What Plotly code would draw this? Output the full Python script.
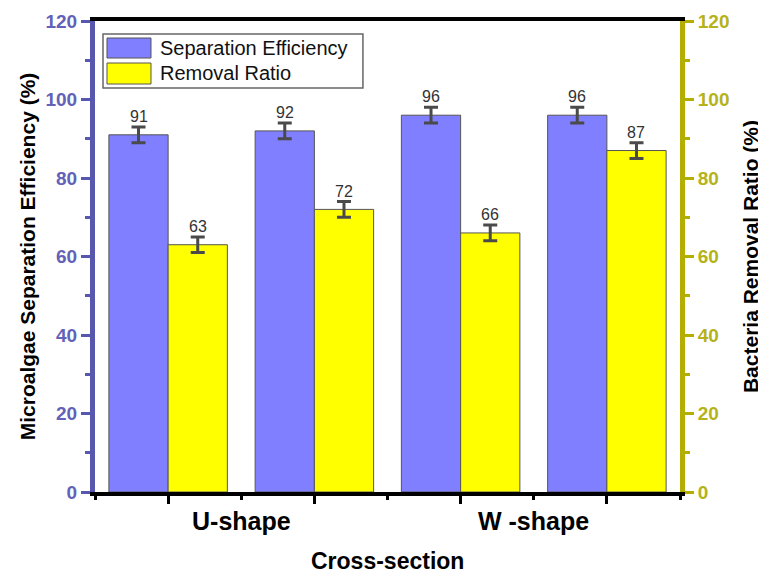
import plotly.graph_objects as go

# ---- data ----
group_labels = ["U-shape", "W -shape"]
positions = [1, 2, 3, 4]
separation_eff = [91, 92, 96, 96]
separation_err = [2, 2, 2, 2]
removal_ratio = [63, 72, 66, 87]
removal_err = [2, 2, 2, 2]
y_ticks = [0, 20, 40, 60, 80, 100, 120]

BLUE = "#7F7FFF"
YELLOW = "#FFFF00"
LEFT_AX = "#5757B0"
LEFT_LBL = "#6262B8"
RIGHT_AX = "#B3AE00"
RIGHT_LBL = "#B5B21A"
ERR = "#4A4A4A"
FONT = "Liberation Sans, Arial, sans-serif"

bargap = 0.19
bar_w = (1 - bargap) / 2

fig = go.Figure()
fig.add_trace(go.Bar(
    x=positions, y=separation_eff, name="Separation Efficiency",
    marker=dict(color=BLUE, line=dict(color="#555555", width=1)),
    error_y=dict(type="data", array=separation_err, color=ERR, thickness=3, width=7),
    offsetgroup="1", yaxis="y", showlegend=False,
))
fig.add_trace(go.Bar(
    x=positions, y=removal_ratio, name="Removal Ratio",
    marker=dict(color=YELLOW, line=dict(color="#555555", width=1)),
    error_y=dict(type="data", array=removal_err, color=ERR, thickness=3, width=7),
    offsetgroup="2", yaxis="y2", showlegend=False,
))

annotations = []
for p, v, e in zip(positions, separation_eff, separation_err):
    annotations.append(dict(x=p - bar_w / 2, y=v + e, xref="x", yref="y", text=str(v),
                            showarrow=False, yanchor="bottom", yshift=0,
                            font=dict(family=FONT, size=16, color="#333333")))
for p, v, e in zip(positions, removal_ratio, removal_err):
    annotations.append(dict(x=p + bar_w / 2, y=v + e, xref="x", yref="y2", text=str(v),
                            showarrow=False, yanchor="bottom", yshift=0,
                            font=dict(family=FONT, size=16, color="#333333")))
# group labels
for i, lab in enumerate(group_labels):
    gx = (positions[2 * i] + positions[2 * i + 1]) / 2
    annotations.append(dict(x=gx, y=0, xref="x", yref="paper", text=lab, showarrow=False,
                            yanchor="middle", yshift=-29,
                            font=dict(family=FONT, size=25, color="#000000", weight="bold")))
annotations.append(dict(x=0.5, y=0, xref="paper", yref="paper", text="Cross-section",
                        showarrow=False, yanchor="middle", yshift=-69,
                        font=dict(family=FONT, size=23, color="#000000", weight="bold")))

# custom legend
shapes = [
    dict(type="rect", xref="paper", yref="paper", x0=0.0137, x1=0.458, y0=0.8577, y1=0.9724,
         line=dict(color="#666666", width=1.5), fillcolor="white"),
    dict(type="rect", xref="paper", yref="paper", x0=0.0205, x1=0.0957, y0=0.9214, y1=0.9639,
         line=dict(color="#555555", width=1), fillcolor=BLUE),
    dict(type="rect", xref="paper", yref="paper", x0=0.0205, x1=0.0957, y0=0.8662, y1=0.9108,
         line=dict(color="#555555", width=1), fillcolor=YELLOW),
]
annotations.append(dict(x=0.1077, y=0.9427, xref="paper", yref="paper", text="Separation Efficiency",
                        showarrow=False, xanchor="left", yanchor="middle",
                        font=dict(family=FONT, size=20, color="#111111")))
annotations.append(dict(x=0.1077, y=0.8896, xref="paper", yref="paper", text="Removal Ratio",
                        showarrow=False, xanchor="left", yanchor="middle",
                        font=dict(family=FONT, size=20, color="#111111")))

fig.update_layout(
    width=758, height=566,
    margin=dict(l=87, r=86, t=13, b=82),
    paper_bgcolor="white", plot_bgcolor="white",
    barmode="group", bargap=bargap, bargroupgap=0,
    font=dict(family=FONT),
    xaxis=dict(range=[0.5, 4.5], tickvals=positions, ticktext=[""] * len(positions),
               automargin=False,
               ticks="outside", ticklen=8, tickwidth=3, tickcolor="black",
               showline=True, linecolor="black", linewidth=4, mirror=True,
               showgrid=False, zeroline=False,
               minor=dict(tickvals=[0.5, 1.5, 2.5, 3.5, 4.5], ticks="outside", ticklen=4,
                          tickwidth=3, tickcolor="black")),
    xaxis2=dict(range=[0.5, 4.5], overlaying="x", side="top", anchor="y", automargin=False,
                tickvals=positions, showticklabels=False, ticks="inside", ticklen=5,
                tickwidth=3, tickcolor="black", showline=False, showgrid=False, zeroline=False,
                minor=dict(tickvals=[1.5, 2.5, 3.5], ticks="inside", ticklen=3,
                           tickwidth=3, tickcolor="black")),
    yaxis=dict(range=[0, 120], tickvals=y_ticks, ticks="outside", ticklen=9, tickwidth=3,
               automargin=False,
               tickcolor=LEFT_AX, showline=True, linecolor=LEFT_AX, linewidth=5,
               showgrid=False, zeroline=False,
               tickfont=dict(family=FONT, size=19, color=LEFT_LBL, weight="bold"),
               minor=dict(dtick=10, ticks="outside", ticklen=5, tickwidth=3, tickcolor=LEFT_AX),
               title=dict(text="Microalgae Separation Efficiency (%)", standoff=6,
                          font=dict(family=FONT, size=21, color="#000000", weight="bold"))),
    yaxis2=dict(range=[0, 120], tickvals=y_ticks, overlaying="y", side="right", anchor="x",
                automargin=False,
                ticks="outside", ticklen=9, tickwidth=3, tickcolor=RIGHT_AX,
                showline=True, linecolor=RIGHT_AX, linewidth=5,
                showgrid=False, zeroline=False,
                tickfont=dict(family=FONT, size=19, color=RIGHT_LBL, weight="bold"),
                minor=dict(dtick=10, ticks="outside", ticklen=5, tickwidth=3, tickcolor=RIGHT_AX),
                title=dict(text="Bacteria Removal Ratio (%)", standoff=16,
                           font=dict(family=FONT, size=21, color="#000000", weight="bold"))),
    shapes=shapes,
    annotations=annotations,
)

fig.write_html("out.html")
